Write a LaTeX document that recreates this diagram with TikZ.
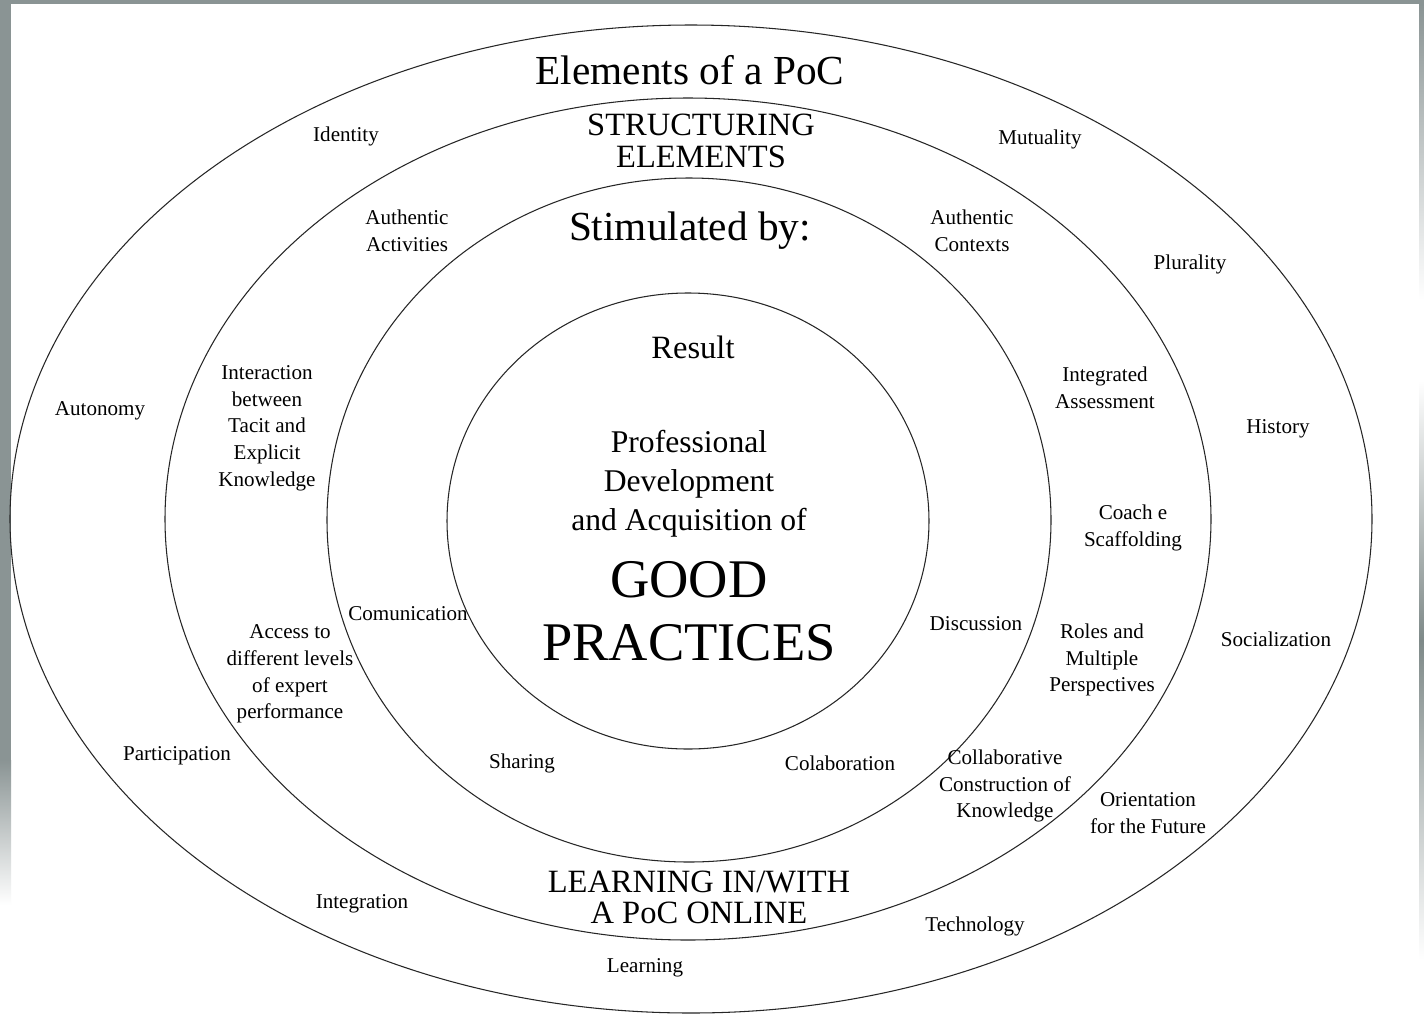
\documentclass[tikz,border=0pt]{standalone}
\usepackage{fontspec}
\setmainfont{Liberation Serif}

\definecolor{framegray}{HTML}{8A9494}
\definecolor{framedark}{HTML}{7F8A89}

\tikzstyle{ring} = [draw=black!85, line width=0.6pt]
\tikzstyle{item} = [inner sep=0pt, align=center, yshift=-1.2pt, font=\fontsize{12}{15.2}\selectfont]
\tikzstyle{head} = [inner sep=0pt, align=center, yshift=-0.6pt, font=\fontsize{18.5}{18.2}\selectfont]
\tikzstyle{title} = [inner sep=0pt, yshift=-1.5pt, font=\fontsize{23.5}{28}\selectfont]
\tikzstyle{big} = [inner sep=0pt, align=center, font=\fontsize{31}{35.8}\selectfont]

\begin{document}
\begin{tikzpicture}[x=0.02cm, y=-0.02cm]

% page and frame
\fill[white] (0,0) rectangle (1424,1015);
\useasboundingbox (0,0) rectangle (1424,1015);
\fill[framegray] (0,0) rectangle (1424,4);
\fill[framegray] (0,0) rectangle (11,760);
\shade[top color=framegray, bottom color=white] (0,760) rectangle (11,905);
\shade[top color=framegray, bottom color=white] (1419,4) rectangle (1424,300);
\shade[top color=white, bottom color=framedark] (1419,380) rectangle (1424,640);
\shade[top color=framedark, bottom color=white] (1419,640) rectangle (1424,960);

% rings
\draw[ring] (691,519) ellipse [x radius=681, y radius=494];
\draw[ring] (688,519) ellipse [x radius=523, y radius=421];
\draw[ring] (689,520) ellipse [x radius=362, y radius=342];
\draw[ring] (688,521) ellipse [x radius=241, y radius=228];

% outer ring
\node (poc) [title] at (690,68) {Elements of a PoC};
\node (identity) [item] at (346,134) {Identity};
\node (mutuality) [item] at (1040,137) {Mutuality};
\node (plurality) [item] at (1190,262) {Plurality};
\node (autonomy) [item] at (100,409) {Autonomy};
\node (history) [item] at (1278,427) {History};
\node (socialization) [item] at (1276,637) {Socialization};
\node (participation) [item] at (177,754) {Participation};
\node (orientation) [item] at (1148,811) {Orientation\\for the Future};
\node (integration) [item] at (362,902) {Integration};
\node (technology) [item] at (975,924) {Technology};
\node (learning) [item] at (645,966) {Learning};

% second ring
\node (structuring) [head] at (701,140) {STRUCTURING\\ELEMENTS};
\node (authact) [item] at (407,228.5) {Authentic\\Activities};
\node (authctx) [item] at (972,228.5) {Authentic\\Contexts};
\node (interaction) [item] at (267,426) {Interaction\\between\\Tacit and\\Explicit\\Knowledge};
\node (assessment) [item] at (1105,386) {Integrated\\Assessment};
\node (coach) [item] at (1133,526) {Coach e\\Scaffolding};
\node (access) [item] at (290,672) {Access to\\different levels\\of expert\\performance};
\node (roles) [item] at (1102,658) {Roles and\\Multiple\\Perspectives};
\node (collab) [item] at (1005,784) {Collaborative\\Construction of\\Knowledge};
\node (online) [head, font=\fontsize{18.5}{17.6}\selectfont] at (699,896.5) {LEARNING IN/WITH\\A PoC ONLINE};

% third ring
\node (stimulated) [title] at (690,228) {Stimulated by:};
\node (comunication) [item] at (408,612) {Comunication};
\node (discussion) [item] at (976,622) {Discussion};
\node (sharing) [item] at (522,761) {Sharing};
\node (colaboration) [item] at (840,761) {Colaboration};

% centre
\node (result) [head] at (693,346) {Result};
\node (prof) [head, font=\fontsize{18}{22.2}\selectfont] at (689,483) {Professional\\Development\\and Acquisition of};
\node (good) [big] at (689,611.5) {GOOD\\PRACTICES};

\end{tikzpicture}
\end{document}
